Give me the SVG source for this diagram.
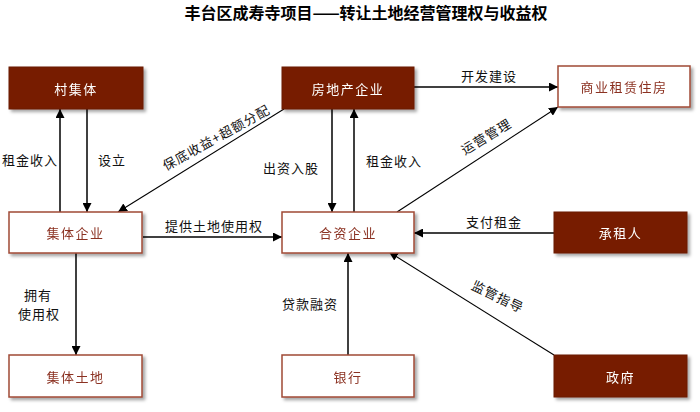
<svg xmlns="http://www.w3.org/2000/svg" width="700" height="412" viewBox="0 0 700 412">
<defs>
<filter id="sh" x="-10%" y="-20%" width="130%" height="160%">
<feDropShadow dx="2.5" dy="2.5" stdDeviation="1.5" flood-color="#000" flood-opacity="0.35"/>
</filter>
<marker id="ah" viewBox="0 0 10 10" refX="10" refY="5" markerWidth="9" markerHeight="9" markerUnits="userSpaceOnUse" orient="auto">
<path d="M0,0 L10,5 L0,10 z" fill="#000"/>
</marker>
</defs>
<style>
.dark{fill:#771e00;stroke:#6a1a00;stroke-width:1;}
.light{fill:#fff;stroke:#a04a35;stroke-width:1.5;}
.nt{font-family:"Noto Sans CJK SC","Noto Sans",sans-serif;font-size:13px;text-anchor:middle;dominant-baseline:central;letter-spacing:1.5px;}
.dt{fill:#fff;}
.lt{fill:#8b3020;}
.lb{font-family:"Noto Sans CJK SC","Noto Sans",sans-serif;font-size:13px;fill:#111;text-anchor:middle;dominant-baseline:central;letter-spacing:1px;}
.c{stroke:#000;stroke-width:1.5;fill:none;marker-end:url(#ah);}
.d{stroke:#000;stroke-width:1.1;fill:none;marker-end:url(#ah);}
.title{font-family:"Noto Sans CJK SC","Noto Sans",sans-serif;font-size:16px;font-weight:bold;fill:#000;text-anchor:middle;dominant-baseline:central;}
</style>
<rect width="700" height="412" fill="#fff"/>
<text class="title" x="366" y="12">丰台区成寿寺项目——转让土地经营管理权与收益权</text>

<g id="connectors">
<line class="c" x1="60" y1="212" x2="60" y2="109"/>
<line class="c" x1="87" y1="109" x2="87" y2="212"/>
<line class="d" x1="284" y1="109" x2="118" y2="212"/>
<line class="c" x1="332" y1="109" x2="332" y2="212"/>
<line class="c" x1="354" y1="212" x2="354" y2="109"/>
<line class="c" x1="143" y1="237" x2="282" y2="237"/>
<line class="c" x1="414" y1="87" x2="558" y2="87"/>
<line class="d" x1="397" y1="212" x2="558" y2="107"/>
<line class="c" x1="554" y1="233" x2="414" y2="233"/>
<line class="d" x1="554" y1="355" x2="389" y2="252"/>
<line class="c" x1="348" y1="355" x2="348" y2="253"/>
<line class="c" x1="76" y1="253" x2="76" y2="355"/>
<text class="lb" x="30" y="159">租金收入</text>
<text class="lb" x="112" y="159">设立</text>
<text class="lb" x="216" y="137" transform="rotate(-29 216 137)">保底收益+超额分配</text>
<text class="lb" x="291" y="167">出资入股</text>
<text class="lb" x="394" y="160">租金收入</text>
<text class="lb" x="214" y="225">提供土地使用权</text>
<text class="lb" x="489" y="75">开发建设</text>
<text class="lb" x="486" y="136" transform="rotate(-31 486 136)">运营管理</text>
<text class="lb" x="494" y="221">支付租金</text>
<text class="lb" x="498" y="296" transform="rotate(26 498 296)">监管指导</text>
<text class="lb" x="310" y="303">贷款融资</text>
<text class="lb" x="38" y="294">拥有</text>
<text class="lb" x="39" y="313">使用权</text>
</g>

<g id="n-cunjiti" filter="url(#sh)"><rect class="dark" x="9" y="67" width="134" height="42"/><text class="nt dt" x="76" y="88">村集体</text></g>
<g id="n-fangdichan" filter="url(#sh)"><rect class="dark" x="282" y="67" width="132" height="42"/><text class="nt dt" x="348" y="88">房地产企业</text></g>
<g id="n-shangye" filter="url(#sh)"><rect class="light" x="558" y="66" width="132" height="41"/><text class="nt lt" x="624" y="86.5">商业租赁住房</text></g>
<g id="n-jitiqiye" filter="url(#sh)"><rect class="light" x="9" y="212" width="133" height="41"/><text class="nt lt" x="75.5" y="232.5">集体企业</text></g>
<g id="n-hezi" filter="url(#sh)"><rect class="light" x="282" y="212" width="132" height="41"/><text class="nt lt" x="348" y="232.5">合资企业</text></g>
<g id="n-chengzuren" filter="url(#sh)"><rect class="dark" x="554" y="212" width="133" height="41"/><text class="nt dt" x="620.5" y="232.5">承租人</text></g>
<g id="n-jititudi" filter="url(#sh)"><rect class="light" x="9" y="355" width="133" height="42"/><text class="nt lt" x="75.5" y="376">集体土地</text></g>
<g id="n-yinhang" filter="url(#sh)"><rect class="light" x="282" y="355" width="132" height="42"/><text class="nt lt" x="348" y="376">银行</text></g>
<g id="n-zhengfu" filter="url(#sh)"><rect class="dark" x="554" y="355" width="133" height="42"/><text class="nt dt" x="620.5" y="376">政府</text></g>
</svg>
